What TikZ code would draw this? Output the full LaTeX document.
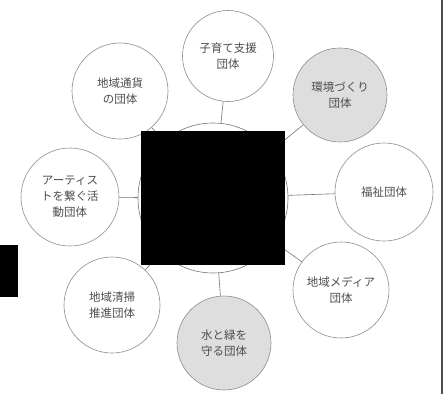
\documentclass[tikz,border=0pt]{standalone}
\usepackage{fontspec}
\newfontfamily\jp{Noto Sans CJK JP}
\begin{document}
\begin{tikzpicture}[x=1pt,y=-1pt,
  org/.style={circle, draw=black!45, line width=0.6pt, minimum size=96pt, inner sep=0pt,
    align=center, font=\jp\fontsize{11.5}{16}\selectfont, text=black!70},
  shaded/.style={fill=black!13},
  link/.style={draw=black!55, line width=0.6pt}]
\useasboundingbox (0,0) rectangle (445,394);
% central circle (mostly hidden behind the square)
\node[circle, draw=black!55, line width=0.6pt, minimum size=150pt] (hub) at (213,198) {};
% outer organisations
\node[org, minimum size=91pt] (top) at (228,56) {子育て支援\\団体};
\node[org] (ul) at (120,91) {地域通貨\\の団体};
\node[org, shaded, minimum size=94pt] (ur) at (340,95) {環境づくり\\団体};
\node[org, minimum size=98pt] (r) at (384,192) {福祉団体};
\node[org] (lr) at (341,290) {地域メディア\\団体};
\node[org, shaded, minimum size=94pt] (b) at (224,343) {水と緑を\\守る団体};
\node[org] (ll) at (112,305) {地域清掃\\推進団体};
\node[org, minimum size=98pt] (l) at (70,197) {アーティス\\トを繋ぐ活\\動団体};
% connectors
\foreach \n in {top,ul,ur,r,lr,b,ll,l} \draw[link] (\n) -- (hub);
% central black square
\node[fill=black, minimum width=144pt, minimum height=134pt, inner sep=0pt] (sq) at (213,198) {};
% side marks
\node[fill=black, minimum width=18pt, minimum height=52pt, inner sep=0pt, anchor=north west] (tab) at (0,245) {};
\coordinate (rt) at (442,0);
\coordinate (rb) at (442,394);
\draw[black!70, line width=1.6pt] (rt) -- (rb);
\end{tikzpicture}
\end{document}
